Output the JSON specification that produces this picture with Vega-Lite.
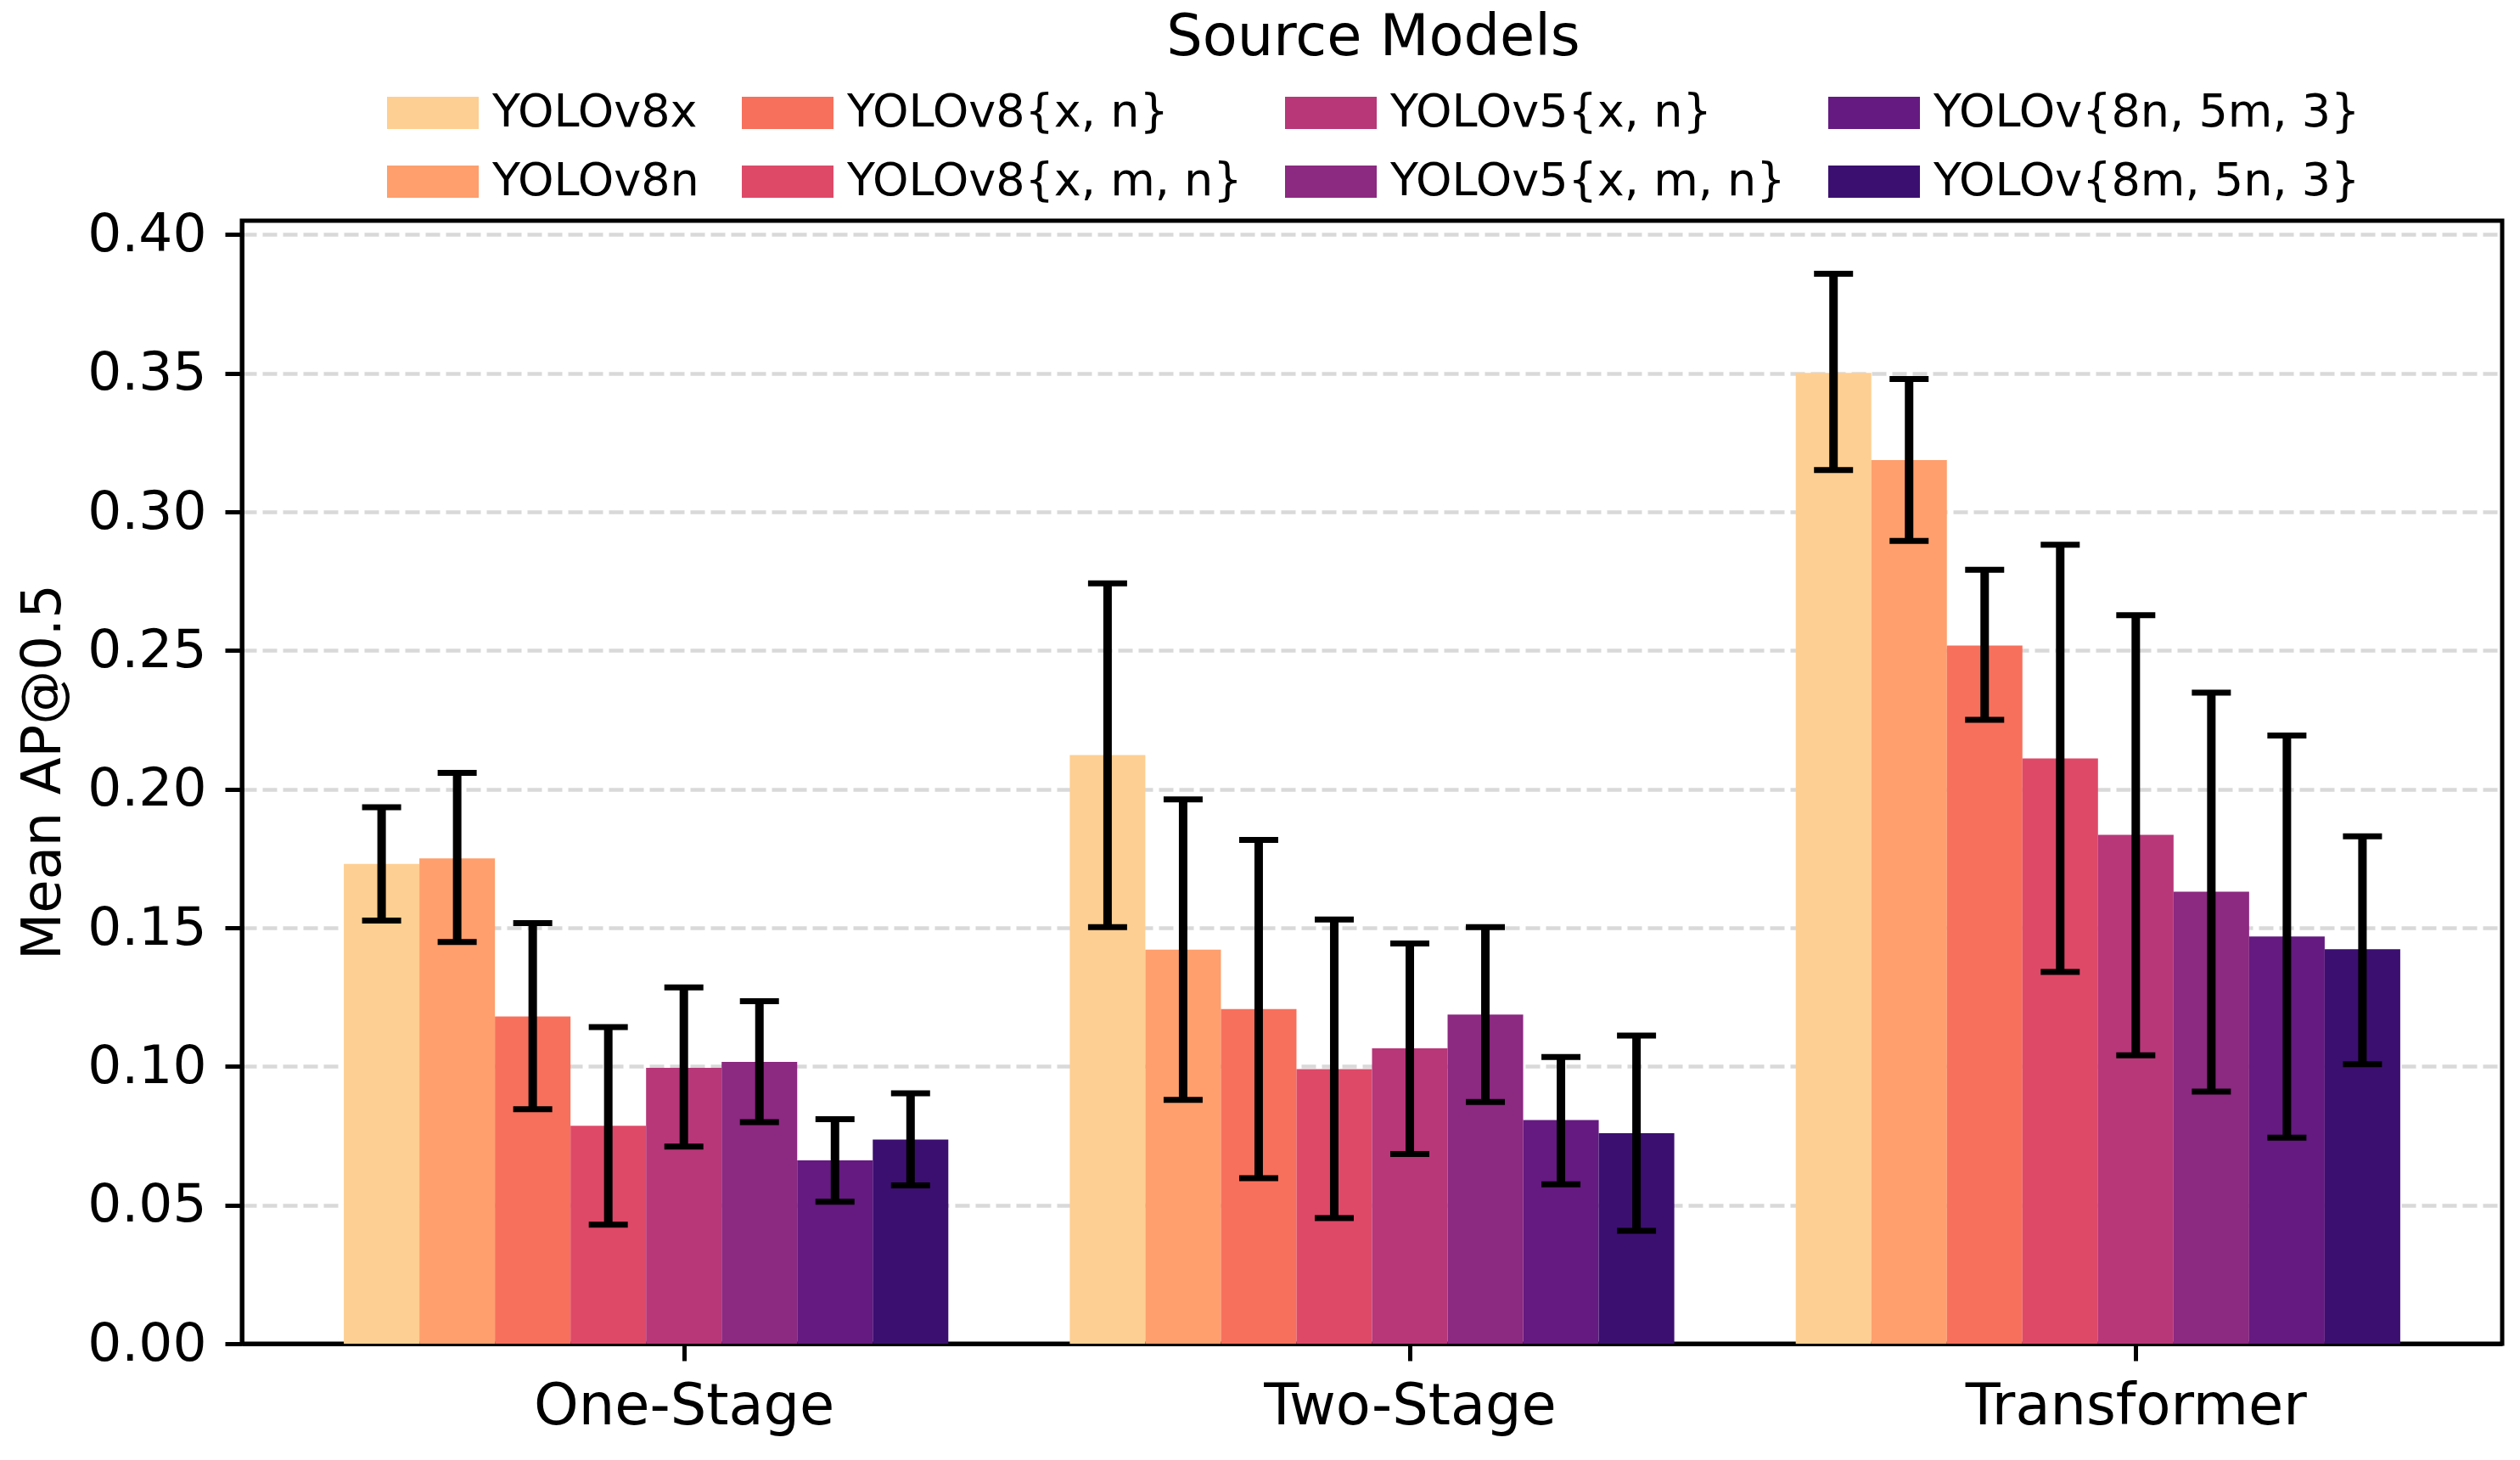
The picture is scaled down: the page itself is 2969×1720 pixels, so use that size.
{
  "$schema": "https://vega.github.io/schema/vega-lite/v6.json",
  "width": 2663,
  "height": 1323,
  "autosize": {"type": "none"},
  "padding": {"left": 285, "top": 260, "right": 21, "bottom": 137},
  "background": "white",
  "config": {
    "font": "DejaVu Sans",
    "view": {"stroke": "black", "strokeWidth": 5},
    "axis": {
      "domainColor": "black",
      "domainWidth": 5,
      "tickColor": "black",
      "tickWidth": 5,
      "tickSize": 20,
      "labelColor": "black",
      "labelLimit": 2000,
      "titleColor": "black",
      "titleFontWeight": "normal",
      "zindex": 1
    }
  },
  "data": {
    "values": [
      {"group": "One-Stage", "model": "YOLOv8x", "ap": 0.173, "lo": 0.1526, "hi": 0.1935},
      {"group": "One-Stage", "model": "YOLOv8n", "ap": 0.175, "lo": 0.1449, "hi": 0.2059},
      {"group": "One-Stage", "model": "YOLOv8{x, n}", "ap": 0.118, "lo": 0.0846, "hi": 0.1517},
      {"group": "One-Stage", "model": "YOLOv8{x, m, n}", "ap": 0.0786, "lo": 0.0429, "hi": 0.1142},
      {"group": "One-Stage", "model": "YOLOv5{x, n}", "ap": 0.0995, "lo": 0.0711, "hi": 0.1285},
      {"group": "One-Stage", "model": "YOLOv5{x, m, n}", "ap": 0.1016, "lo": 0.0799, "hi": 0.1235},
      {"group": "One-Stage", "model": "YOLOv{8n, 5m, 3}", "ap": 0.0661, "lo": 0.0512, "hi": 0.081},
      {"group": "One-Stage", "model": "YOLOv{8m, 5n, 3}", "ap": 0.0736, "lo": 0.0571, "hi": 0.0903},
      {"group": "Two-Stage", "model": "YOLOv8x", "ap": 0.2123, "lo": 0.1502, "hi": 0.2742},
      {"group": "Two-Stage", "model": "YOLOv8n", "ap": 0.1421, "lo": 0.0879, "hi": 0.1963},
      {"group": "Two-Stage", "model": "YOLOv8{x, n}", "ap": 0.1207, "lo": 0.0597, "hi": 0.1817},
      {"group": "Two-Stage", "model": "YOLOv8{x, m, n}", "ap": 0.099, "lo": 0.0453, "hi": 0.153},
      {"group": "Two-Stage", "model": "YOLOv5{x, n}", "ap": 0.1065, "lo": 0.0684, "hi": 0.1443},
      {"group": "Two-Stage", "model": "YOLOv5{x, m, n}", "ap": 0.1187, "lo": 0.0872, "hi": 0.1502},
      {"group": "Two-Stage", "model": "YOLOv{8n, 5m, 3}", "ap": 0.0807, "lo": 0.0575, "hi": 0.1034},
      {"group": "Two-Stage", "model": "YOLOv{8m, 5n, 3}", "ap": 0.0759, "lo": 0.0407, "hi": 0.1111},
      {"group": "Transformer", "model": "YOLOv8x", "ap": 0.3501, "lo": 0.3151, "hi": 0.3859},
      {"group": "Transformer", "model": "YOLOv8n", "ap": 0.3187, "lo": 0.2895, "hi": 0.3479},
      {"group": "Transformer", "model": "YOLOv8{x, n}", "ap": 0.2518, "lo": 0.225, "hi": 0.2791},
      {"group": "Transformer", "model": "YOLOv8{x, m, n}", "ap": 0.2111, "lo": 0.1341, "hi": 0.2881},
      {"group": "Transformer", "model": "YOLOv5{x, n}", "ap": 0.1835, "lo": 0.104, "hi": 0.2627},
      {"group": "Transformer", "model": "YOLOv5{x, m, n}", "ap": 0.163, "lo": 0.0909, "hi": 0.2348},
      {"group": "Transformer", "model": "YOLOv{8n, 5m, 3}", "ap": 0.1469, "lo": 0.0743, "hi": 0.2193},
      {"group": "Transformer", "model": "YOLOv{8m, 5n, 3}", "ap": 0.1423, "lo": 0.1008, "hi": 0.183}
    ]
  },
  "encoding": {
    "x": {
      "field": "group",
      "type": "nominal",
      "sort": ["One-Stage", "Two-Stage", "Transformer"],
      "scale": {"paddingInner": 0.1673, "paddingOuter": 0.1404},
      "axis": {
        "title": null,
        "labelAngle": 0,
        "labelFontSize": 67,
        "labelBaseline": "alphabetic",
        "labelPadding": 74,
        "tickOffset": 44.5,
        "grid": false
      }
    },
    "xOffset": {
      "field": "model",
      "type": "nominal",
      "sort": ["YOLOv8x", "YOLOv8n", "YOLOv8{x, n}", "YOLOv8{x, m, n}", "YOLOv5{x, n}", "YOLOv5{x, m, n}", "YOLOv{8n, 5m, 3}", "YOLOv{8m, 5n, 3}"],
      "scale": {"paddingInner": 0, "paddingOuter": 0}
    }
  },
  "layer": [
    {
      "mark": {"type": "bar"},
      "encoding": {
        "y": {
          "field": "ap",
          "type": "quantitative",
          "title": "Mean AP@0.5",
          "scale": {"domain": [0, 0.405], "nice": false},
          "axis": {
            "values": [0, 0.05, 0.1, 0.15, 0.2, 0.25, 0.3, 0.35, 0.4],
            "format": ".2f",
            "labelFontSize": 63,
            "labelPadding": 22,
            "grid": true,
            "gridColor": "#808080",
            "gridOpacity": 0.3,
            "gridDash": [17, 7],
            "gridWidth": 4.5,
            "titleFontSize": 64,
            "titleX": -215,
            "titleY": 649,
            "titleAlign": "center",
            "titleBaseline": "alphabetic",
            "titleAngle": -90
          }
        },
        "color": {
          "field": "model",
          "type": "nominal",
          "scale": {
            "domain": ["YOLOv8x", "YOLOv8{x, n}", "YOLOv5{x, n}", "YOLOv{8n, 5m, 3}", "YOLOv8n", "YOLOv8{x, m, n}", "YOLOv5{x, m, n}", "YOLOv{8m, 5n, 3}"],
            "range": ["#fecf92", "#f7705c", "#b73779", "#641a80", "#fe9f6d", "#de4968", "#8c2981", "#3b0f70"]
          },
          "legend": {
            "title": "Source Models",
            "orient": "none",
            "legendX": 171,
            "legendY": -248,
            "direction": "horizontal",
            "columns": 4,
            "columnPadding": 50,
            "rowPadding": -4,
            "symbolType": "M-1,-0.352L1,-0.352L1,0.352L-1,0.352Z",
            "symbolSize": 11664,
            "symbolStrokeWidth": 0,
            "symbolOpacity": 1,
            "labelFontSize": 54,
            "labelOffset": 16,
            "labelLimit": 2000,
            "labelColor": "black",
            "titleFontSize": 67,
            "titleFontWeight": "normal",
            "titleColor": "black",
            "titleLimit": 3000,
            "titleAnchor": "middle",
            "titlePadding": 0
          }
        }
      }
    },
    {
      "mark": {"type": "rule", "color": "black", "strokeWidth": 10},
      "encoding": {
        "y": {"field": "lo", "type": "quantitative", "title": "Mean AP@0.5"},
        "y2": {"field": "hi"}
      }
    },
    {
      "mark": {"type": "tick", "color": "black", "thickness": 7, "size": 46, "opacity": 1},
      "encoding": {
        "y": {"field": "lo", "type": "quantitative", "title": "Mean AP@0.5"}
      }
    },
    {
      "mark": {"type": "tick", "color": "black", "thickness": 7, "size": 46, "opacity": 1},
      "encoding": {
        "y": {"field": "hi", "type": "quantitative", "title": "Mean AP@0.5"}
      }
    }
  ]
}
